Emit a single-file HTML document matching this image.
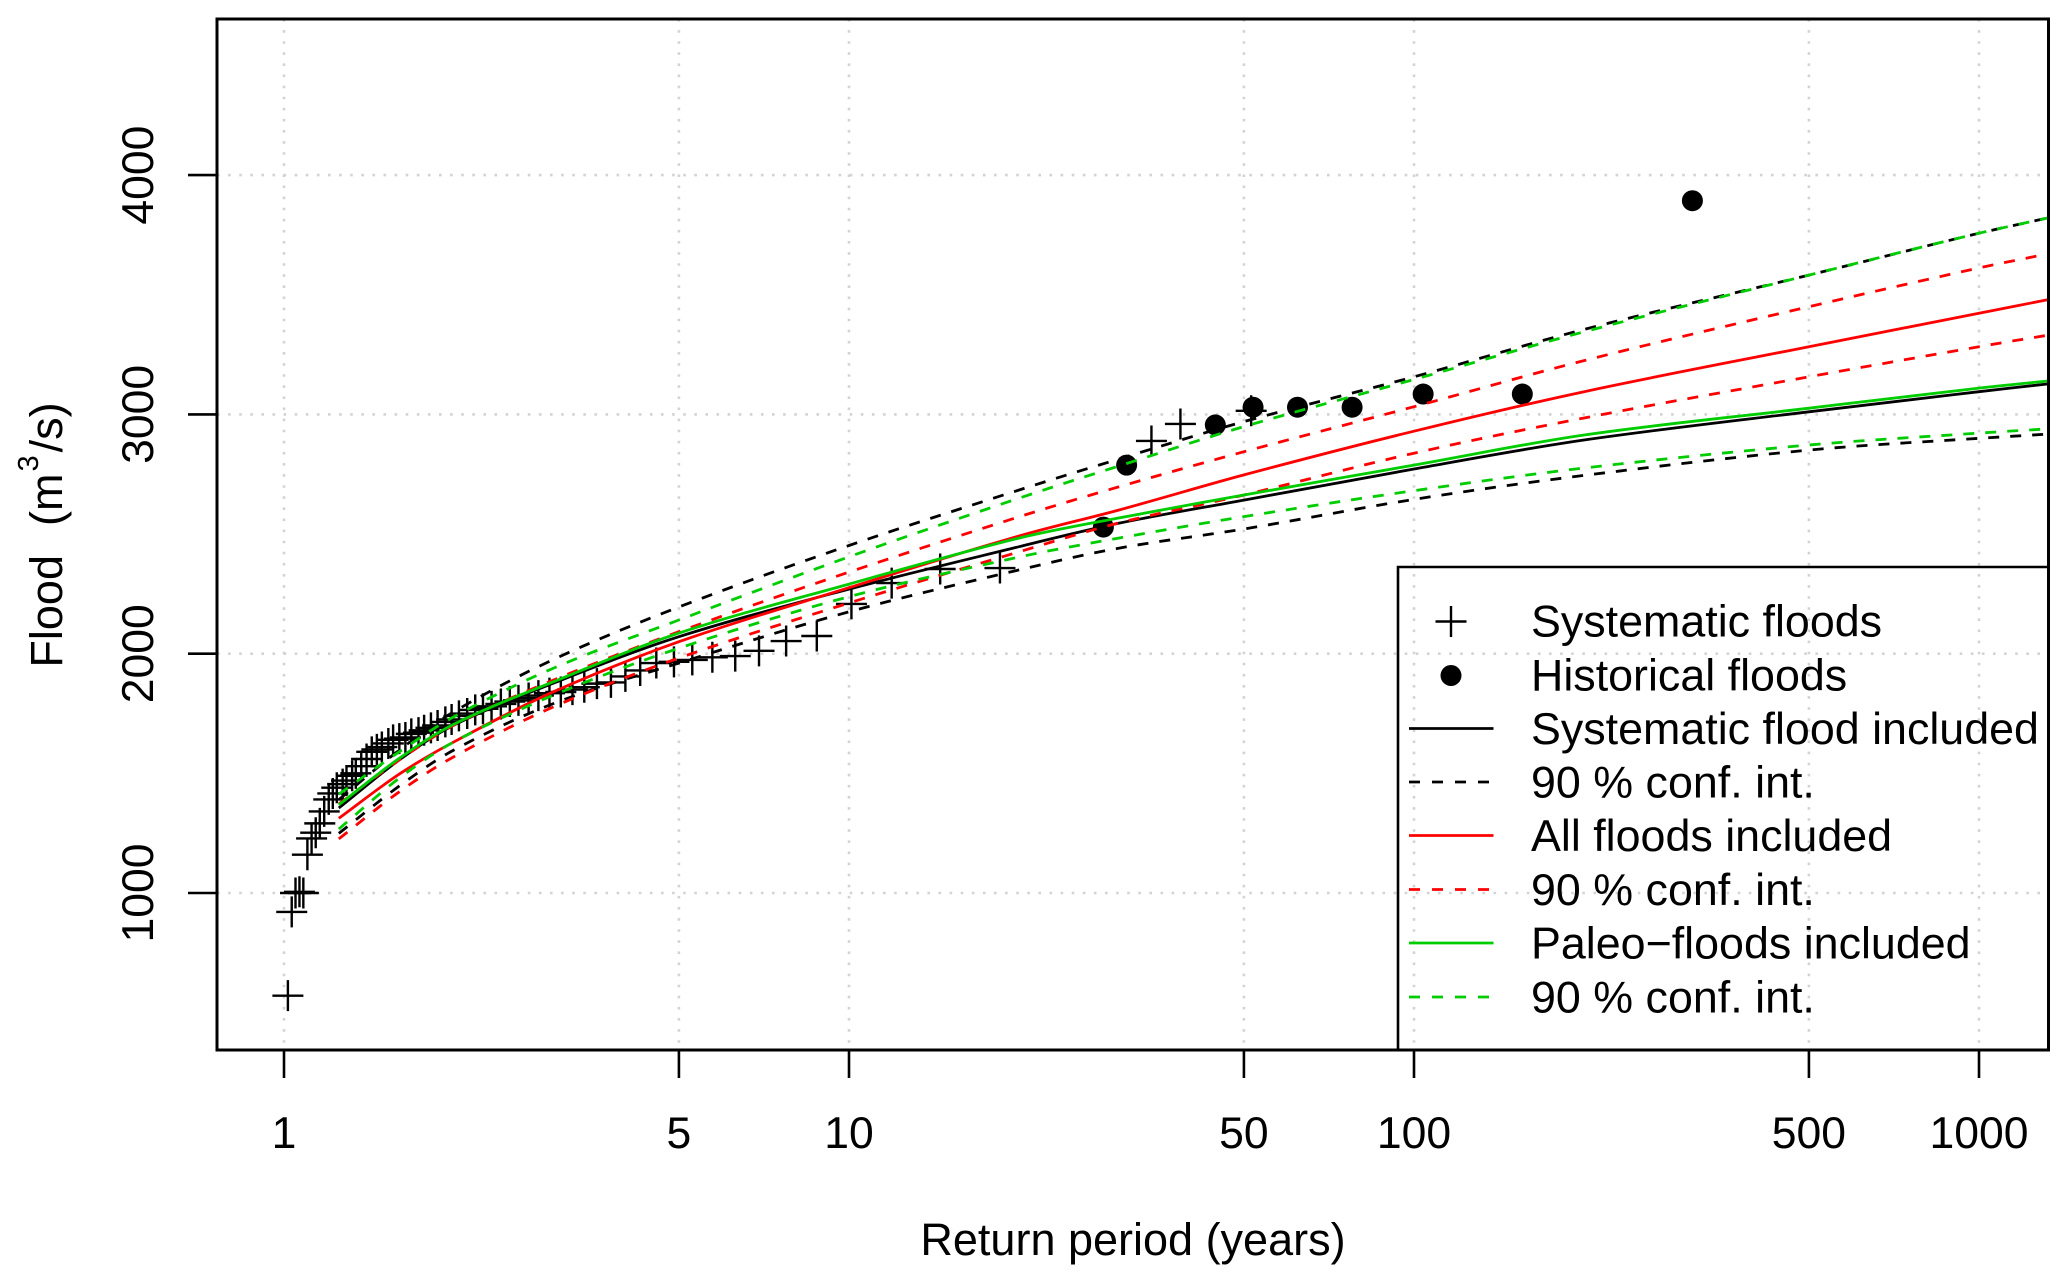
<!DOCTYPE html>
<html lang="en">
<head>
<meta charset="utf-8">
<title>Flood frequency chart</title>
<style>
html,body{margin:0;padding:0;background:#fff;}
svg{display:block;}
text{font-family:"Liberation Sans",Arial,sans-serif;fill:#000;}
</style>
</head>
<body>
<svg id="chart" xmlns="http://www.w3.org/2000/svg" width="2067" height="1282" viewBox="0 0 2067 1282">
  <defs><clipPath id="plot-clip"><rect x="217" y="19" width="1831.5" height="1031"/></clipPath></defs>
  <rect x="0" y="0" width="2067" height="1282" fill="#fff"/>
  <g id="grid"></g>
  <g id="marks" clip-path="url(#plot-clip)"></g>
  <rect x="217" y="19" width="1831.5" height="1031" fill="none" stroke="#000" stroke-width="3"/>
  <g id="axes"></g>

  <text x="1133" y="1255" font-size="45" text-anchor="middle">Return period (years)</text>
  <text transform="translate(62,535) rotate(-90)" font-size="45" text-anchor="middle" xml:space="preserve">Flood<tspan dx="29">(m</tspan><tspan font-size="29" dx="2" dy="-24">3</tspan><tspan dx="3" dy="24">/s)</tspan></text>

  <g id="legend">
    <path d="M1398 1050 V567 H2048.5" fill="none" stroke="#000" stroke-width="2.6"/>
    <g>
      <path d="M1435.5 621.5 H1466.5 M1451 606 V637" stroke="#000" stroke-width="2.4" fill="none"/>
      <text x="1531" y="636.7" font-size="44.8">Systematic floods</text>
    </g>
    <g>
      <circle cx="1451" cy="675.5" r="10.5" fill="#000"/>
      <text x="1531" y="690.7" font-size="44.8">Historical floods</text>
    </g>
    <g>
      <line x1="1409" x2="1493.5" y1="728.5" y2="728.5" stroke="#000" stroke-width="2.8"/>
      <text x="1531" y="744" font-size="44.8">Systematic flood included</text>
    </g>
    <g>
      <line x1="1409" x2="1489" y1="782" y2="782" stroke="#000" stroke-width="2.8" stroke-dasharray="11 12"/>
      <text x="1531" y="797.5" font-size="44.8">90 % conf. int.</text>
    </g>
    <g>
      <line x1="1409" x2="1493.5" y1="835.5" y2="835.5" stroke="#ff0000" stroke-width="2.8"/>
      <text x="1531" y="851" font-size="44.8">All floods included</text>
    </g>
    <g>
      <line x1="1409" x2="1489" y1="889.5" y2="889.5" stroke="#ff0000" stroke-width="2.8" stroke-dasharray="11 12"/>
      <text x="1531" y="905" font-size="44.8">90 % conf. int.</text>
    </g>
    <g>
      <line x1="1409" x2="1493.5" y1="943" y2="943" stroke="#00cd00" stroke-width="2.8"/>
      <text x="1531" y="958.5" font-size="44.8">Paleo−floods included</text>
    </g>
    <g>
      <line x1="1409" x2="1489" y1="997" y2="997" stroke="#00cd00" stroke-width="2.8" stroke-dasharray="11 12"/>
      <text x="1531" y="1012.5" font-size="44.8">90 % conf. int.</text>
    </g>
  </g>
</svg>
<script>
var xTicks = [1, 5, 10, 50, 100, 500, 1000];
var yTicks = [1000, 2000, 3000, 4000];

var systematicT = [38.6, 34.3, 51.5, 18.5, 14.5, 11.9, 10.1, 8.77, 7.74, 6.93, 6.29, 5.73, 5.28, 4.9, 4.56, 4.27, 4.02, 3.79, 3.58, 3.4, 3.24, 3.09, 2.95, 2.82, 2.71, 2.6, 2.51, 2.42, 2.33, 2.25, 2.18, 2.11, 2.04, 1.98, 1.93, 1.87, 1.82, 1.77, 1.73, 1.68, 1.64, 1.6, 1.56, 1.53, 1.49, 1.46, 1.43, 1.4, 1.37, 1.34, 1.32, 1.29, 1.27, 1.24, 1.22, 1.2, 1.178, 1.157, 1.138, 1.119, 1.1, 1.082, 1.065, 1.048, 1.032, 1.016];
var systematicQ = [2960, 2889, 3015, 2358, 2354, 2295, 2208, 2074, 2053, 2012, 1990, 1985, 1974, 1966, 1961, 1930, 1905, 1880, 1875, 1860, 1850, 1840, 1835, 1825, 1815, 1805, 1800, 1790, 1780, 1770, 1765, 1750, 1740, 1725, 1715, 1700, 1690, 1680, 1670, 1665, 1650, 1645, 1640, 1625, 1610, 1600, 1590, 1560, 1530, 1500, 1490, 1470, 1455, 1440, 1416, 1391, 1341, 1291, 1252, 1228, 1160, 1000, 1005, 1000, 921, 571];

var historicalT = [28.2, 31, 44.5, 51.9, 62.2, 77.7, 103.8, 155.5, 311];
var historicalQ = [2529, 2788, 2956, 3030, 3030, 3030, 3085, 3085, 3893];

var curveT = [1.25, 1.6, 2, 3, 5, 10, 20, 30, 50, 100, 200, 500, 1000, 1330];
var systematicFit = [1355, 1556, 1702, 1877, 2071, 2270, 2447, 2545, 2642, 2772, 2893, 3011, 3095, 3128];
var systematicUpper = [1390, 1597, 1758, 1976, 2195, 2452, 2684, 2813, 2970, 3157, 3355, 3582, 3757, 3822];
var systematicLower = [1249, 1447, 1598, 1792, 1961, 2175, 2350, 2441, 2521, 2645, 2745, 2851, 2900, 2918];
var allFit = [1312, 1497, 1632, 1841, 2050, 2276, 2492, 2600, 2747, 2930, 3095, 3283, 3423, 3480];
var allUpper = [1372, 1556, 1702, 1890, 2092, 2341, 2572, 2697, 2844, 3032, 3225, 3450, 3612, 3672];
var allLower = [1226, 1423, 1570, 1778, 1982, 2212, 2426, 2546, 2663, 2838, 2985, 3157, 3283, 3332];
var paleoFit = [1368, 1563, 1706, 1883, 2086, 2291, 2483, 2567, 2663, 2788, 2914, 3026, 3110, 3140];
var paleoUpper = [1413, 1590, 1737, 1940, 2141, 2405, 2650, 2784, 2949, 3146, 3345, 3582, 3757, 3822];
var paleoLower = [1267, 1480, 1632, 1827, 2023, 2238, 2404, 2483, 2573, 2681, 2776, 2872, 2922, 2940];

var NS = 'http://www.w3.org/2000/svg';
function xScale(t) { return 284 + 565 * Math.log10(t); }
function yScale(q) { return 893 - (q - 1000) * 0.2393; }

function make(tag, parent, attrs) {
  var el = document.createElementNS(NS, tag);
  for (var k in attrs) { el.setAttribute(k, attrs[k]); }
  parent.appendChild(el);
  return el;
}

var gridG = document.getElementById('grid');
var axesG = document.getElementById('axes');
var marksG = document.getElementById('marks');

xTicks.forEach(function (t) {
  var px = xScale(t);
  var g = make('line', gridG, {x1: px, x2: px, y1: 19, y2: 1050, stroke: '#d3d3d3', 'stroke-width': 2.6, 'stroke-dasharray': '2.6 8.5'});
  
  
  var tick = make('line', axesG, {x1: px, x2: px, y1: 1050, y2: 1078, stroke: '#000', 'stroke-width': 2.6});
  
  
  var lab = make('text', axesG, {x: px, y: 1148, 'font-size': 44.5, 'text-anchor': 'middle'});
  lab.textContent = String(t);
  
  
});

yTicks.forEach(function (q) {
  var py = yScale(q);
  var g = make('line', gridG, {x1: 217, x2: 2048.5, y1: py, y2: py, stroke: '#d3d3d3', 'stroke-width': 2.6, 'stroke-dasharray': '2.6 8.5'});
  
  
  var tick = make('line', axesG, {x1: 188, x2: 217, y1: py, y2: py, stroke: '#000', 'stroke-width': 2.6});
  
  
  var lab = make('text', axesG, {transform: 'translate(153,' + py + ') rotate(-90)', 'font-size': 44.5, 'text-anchor': 'middle'});
  lab.textContent = String(q);
  
  
});

systematicT.forEach(function (t, i) {
  var cx = xScale(t), cy = yScale(systematicQ[i]);
  var c = make('path', marksG, {d: 'M' + (cx - 15.5) + ' ' + cy + 'H' + (cx + 15.5) + 'M' + cx + ' ' + (cy - 15.5) + 'V' + (cy + 15.5), stroke: '#000', 'stroke-width': 2.4, fill: 'none'});
  
  
});

historicalT.forEach(function (t, i) {
  var d = make('circle', marksG, {cx: xScale(t), cy: yScale(historicalQ[i]), r: 10.5, fill: '#000'});
  
  
});

function drawCurve(values, color, dashed, name) {
  var xs = curveT.map(xScale);
  var ys = values.map(yScale);
  var n = xs.length;
  var slope = xs.map(function (x, i) {
    var a = Math.max(i - 1, 0), b = Math.min(i + 1, n - 1);
    return (ys[b] - ys[a]) / (xs[b] - xs[a]);
  });
  var d = 'M' + xs[0].toFixed(1) + ' ' + ys[0].toFixed(1);
  for (var i = 0; i < n - 1; i++) {
    var h = (xs[i + 1] - xs[i]) / 3;
    d += 'C' + (xs[i] + h).toFixed(1) + ' ' + (ys[i] + slope[i] * h).toFixed(1) + ' ' +
      (xs[i + 1] - h).toFixed(1) + ' ' + (ys[i + 1] - slope[i + 1] * h).toFixed(1) + ' ' +
      xs[i + 1].toFixed(1) + ' ' + ys[i + 1].toFixed(1);
  }
  var attrs = {d: d, fill: 'none', stroke: color, 'stroke-width': 2.8, 'stroke-linejoin': 'round'};
  if (dashed) { attrs['stroke-dasharray'] = '11 11'; }
  var l = make('path', marksG, attrs);
  
  
}

drawCurve(systematicFit, '#000', false, 'systematic-fit-line');
drawCurve(systematicUpper, '#000', true, 'systematic-upper-ci-line');
drawCurve(systematicLower, '#000', true, 'systematic-lower-ci-line');
drawCurve(allFit, '#ff0000', false, 'all-floods-fit-line');
drawCurve(allUpper, '#ff0000', true, 'all-floods-upper-ci-line');
drawCurve(allLower, '#ff0000', true, 'all-floods-lower-ci-line');
drawCurve(paleoFit, '#00cd00', false, 'paleo-fit-line');
drawCurve(paleoUpper, '#00cd00', true, 'paleo-upper-ci-line');
drawCurve(paleoLower, '#00cd00', true, 'paleo-lower-ci-line');
</script>
</body>
</html>
